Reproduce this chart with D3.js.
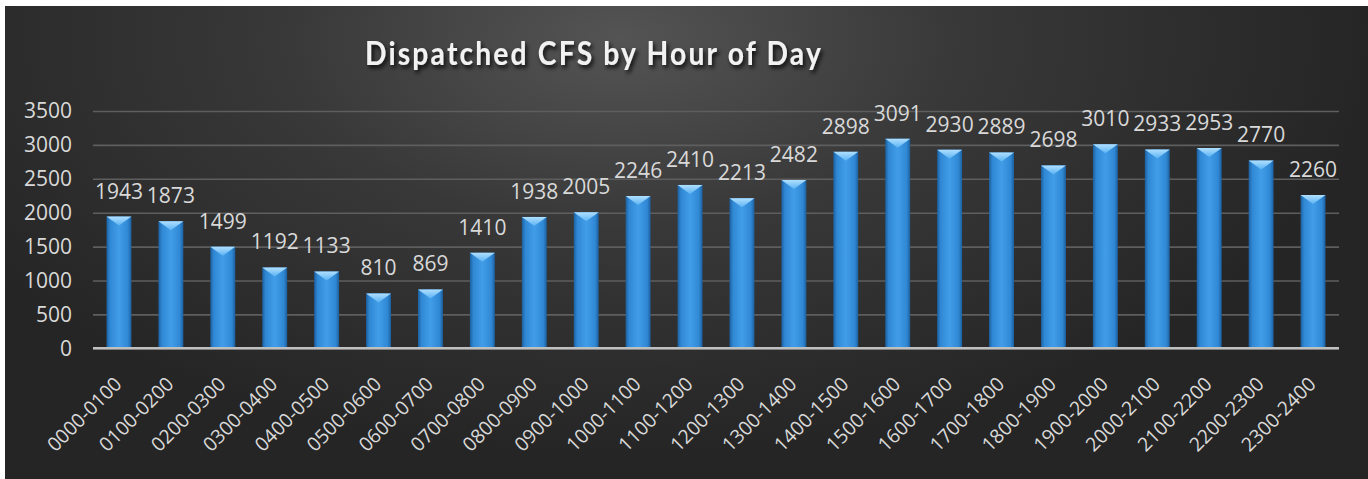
<!DOCTYPE html>
<html>
<head>
<meta charset="utf-8">
<script src="https://cdn.jsdelivr.net/npm/d3@7"></script>
<style>
  html, body { margin: 0; padding: 0; background: #ffffff; }
  svg { display: block; }
</style>
</head>
<body>
<svg id="chart" width="1368" height="479"></svg>
<script>
// Hour-of-day buckets and dispatched calls-for-service counts
const hours = ["0000-0100","0100-0200","0200-0300","0300-0400","0400-0500","0500-0600",
  "0600-0700","0700-0800","0800-0900","0900-1000","1000-1100","1100-1200",
  "1200-1300","1300-1400","1400-1500","1500-1600","1600-1700","1700-1800",
  "1800-1900","1900-2000","2000-2100","2100-2200","2200-2300","2300-2400"];
const calls = [1943,1873,1499,1192,1133,810,869,1410,1938,2005,2246,2410,
  2213,2482,2898,3091,2930,2889,2698,3010,2933,2953,2770,2260];
const yTicks = [0,500,1000,1500,2000,2500,3000,3500];
const title = "Dispatched CFS by Hour of Day";

const svg = d3.select("#chart");
const W = 1368, H = 479;
const panel = {x: 5, y: 6, w: W - 5, h: H - 6};
const plot = {left: 93, right: 1339, top: 111, bottom: 348.3};
const font = "'Open Sans', sans-serif";

const defs = svg.append("defs");

// Dark panel background, lighter toward the top middle
const bg = defs.append("radialGradient").attr("id", "bgGrad")
  .attr("gradientUnits", "userSpaceOnUse")
  .attr("cx", 620).attr("cy", 40).attr("r", 760)
  .attr("gradientTransform", "translate(620,40) scale(1,0.55) translate(-620,-40)");
bg.append("stop").attr("offset", "0%").attr("stop-color", "#545454");
bg.append("stop").attr("offset", "45%").attr("stop-color", "#383838");
bg.append("stop").attr("offset", "100%").attr("stop-color", "#252525");

// Bar body: darker edges, brighter centre
const barGrad = defs.append("linearGradient").attr("id", "barGrad")
  .attr("x1", "0%").attr("x2", "100%").attr("y1", "0%").attr("y2", "0%");
barGrad.append("stop").attr("offset", "0%").attr("stop-color", "#1c5f9e");
barGrad.append("stop").attr("offset", "14%").attr("stop-color", "#3088d4");
barGrad.append("stop").attr("offset", "50%").attr("stop-color", "#429de9");
barGrad.append("stop").attr("offset", "86%").attr("stop-color", "#3088d4");
barGrad.append("stop").attr("offset", "100%").attr("stop-color", "#1c5f9e");

// Bevelled cap on top of each bar
const capGrad = defs.append("linearGradient").attr("id", "capGrad")
  .attr("x1", "0%").attr("x2", "0%").attr("y1", "0%").attr("y2", "100%");
capGrad.append("stop").attr("offset", "0%").attr("stop-color", "#b0dfff");
capGrad.append("stop").attr("offset", "100%").attr("stop-color", "#5ab3f3");

// Title shadow
const sh = defs.append("filter").attr("id", "titleShadow")
  .attr("x", "-10%").attr("y", "-30%").attr("width", "120%").attr("height", "160%");
sh.append("feDropShadow").attr("dx", 2).attr("dy", 3).attr("stdDeviation", 2.2)
  .attr("flood-color", "#000000").attr("flood-opacity", 0.85);

svg.append("rect")
  .attr("x", panel.x).attr("y", panel.y).attr("width", panel.w).attr("height", panel.h)
  .attr("fill", "url(#bgGrad)");

const x = d3.scaleBand().domain(hours)
  .range([plot.left, plot.right]).paddingInner(0.52).paddingOuter(0.26);
const y = d3.scaleLinear().domain([0, 3500]).range([plot.bottom, plot.top]);

// Horizontal gridlines and value axis labels
const yAxis = d3.axisLeft(y).tickValues(yTicks).tickFormat(d3.format("d"))
  .tickSize(-(plot.right - plot.left)).tickPadding(20);
const yG = svg.append("g").attr("transform", `translate(${plot.left},0)`).call(yAxis);
yG.select(".domain").remove();
yG.selectAll(".tick line").attr("stroke", "#5e5e5e").attr("stroke-width", 1.6);
yG.selectAll(".tick text")
  .attr("fill", "#d9d9d9").attr("font-family", font)
  .attr("font-size", 21).attr("x", -21);

// Bars
const bars = svg.append("g");
bars.selectAll("rect").data(calls).join("rect")
  .attr("x", (d, i) => x(hours[i]))
  .attr("y", d => y(d))
  .attr("width", x.bandwidth())
  .attr("height", d => y(0) - y(d))
  .attr("fill", "url(#barGrad)");
bars.selectAll("path.cap").data(calls).join("path").attr("class", "cap")
  .attr("d", (d, i) => {
    const x0 = x(hours[i]), x1 = x0 + x.bandwidth(), top = y(d);
    return `M${x0},${top}L${x1},${top}L${(x0 + x1) / 2},${top + 9}Z`;
  })
  .attr("fill", "url(#capGrad)");

// Category axis with rotated hour labels
const xAxis = d3.axisBottom(x).tickSize(0).tickPadding(0);
const xG = svg.append("g").attr("transform", `translate(0,${y(0)})`).call(xAxis);
xG.select(".domain").remove();
svg.append("line")
  .attr("x1", plot.left).attr("x2", plot.right)
  .attr("y1", y(0)).attr("y2", y(0))
  .attr("stroke", "#c0c0c0").attr("stroke-width", 2.5);
xG.selectAll(".tick text")
  .attr("fill", "#d9d9d9").attr("font-family", font)
  .attr("font-size", 19.5)
  .attr("text-anchor", "end")
  .attr("dy", 0).attr("y", 0)
  .attr("transform", "translate(4,37) rotate(-45)");

// Value labels
svg.append("g").selectAll("text").data(calls).join("text")
  .attr("x", (d, i) => x(hours[i]) + x.bandwidth() / 2)
  .attr("y", d => y(d) - 18)
  .attr("text-anchor", "middle")
  .attr("fill", "#d9d9d9").attr("font-family", font)
  .attr("font-size", 21)
  .text(d => d);

// Title
svg.append("text")
  .attr("x", 594).attr("y", 65)
  .attr("text-anchor", "middle")
  .attr("fill", "#f2f2f2")
  .attr("font-family", "Lato, sans-serif")
  .attr("font-weight", "bold")
  .attr("font-size", 33)
  .attr("letter-spacing", 2.5)
  .attr("textLength", 458)
  .attr("lengthAdjust", "spacingAndGlyphs")
  .attr("filter", "url(#titleShadow)")
  .text(title);
</script>
</body>
</html>
